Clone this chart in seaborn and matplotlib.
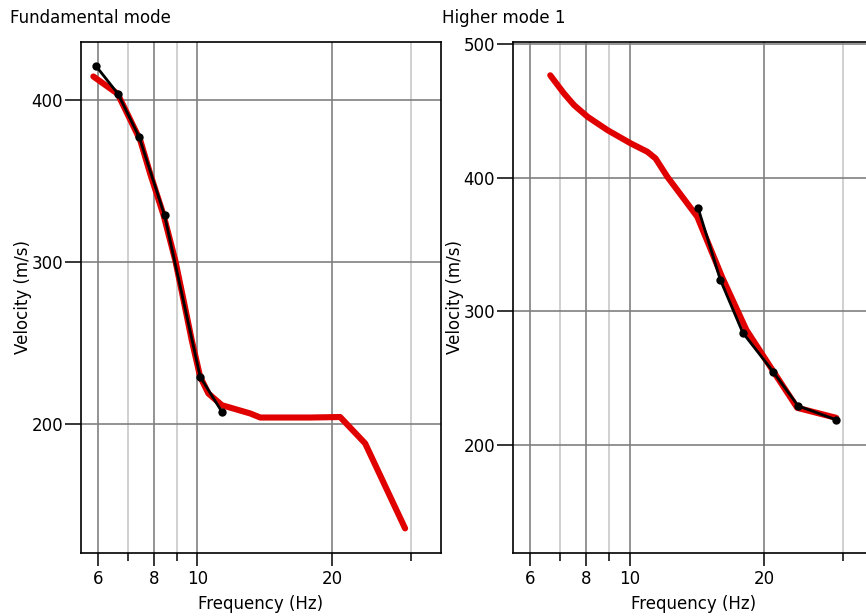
import pandas as pd
import numpy as np
import matplotlib
matplotlib.use('Agg')
import matplotlib.pyplot as plt
import matplotlib.ticker as mticker
import seaborn as sns

# fundamental mode: observed (black) and modelled (red)
fund_obs_f = [5.95, 6.65, 7.42, 8.45, 10.15, 11.35]
fund_obs_v = [420.6, 403.7, 376.9, 328.6, 228.8, 207.2]
fund_mod_f = [5.86, 6.64, 7.46, 7.85, 8.41, 8.93, 9.32, 9.72, 10.15, 10.59,
              11.35, 13.13, 13.82, 17.87, 20.84, 23.7, 29.1]
fund_mod_v = [414.4, 403.7, 374.9, 354.3, 328.6, 300.8, 276.1, 251.4, 228.8, 218.5,
              211.3, 206.2, 203.7, 203.7, 204.0, 187.7, 135.2]

# higher mode 1
high_obs_f = [14.23, 15.95, 17.89, 20.91, 23.77, 28.93]
high_obs_v = [377.0, 323.4, 284.0, 254.8, 229.2, 218.7]
high_mod_f = [6.65, 7.14, 7.52, 8.06, 8.93, 10.06, 10.96, 11.43, 12.14, 14.16,
              16.12, 18.23, 20.84, 23.68, 28.93]
high_mod_v = [476.7, 463.0, 454.3, 445.6, 435.6, 425.7, 419.4, 414.4, 400.7, 370.8,
              324.9, 286.0, 256.0, 227.7, 220.2]

x_major = [6, 8, 10, 20]
x_minor = [7, 9, 30]

sns.set_style("white")
plt.rcParams['font.family'] = ['DejaVu Sans']
plt.rcParams['text.color'] = 'black'
plt.rcParams['axes.labelcolor'] = 'black'
plt.rcParams['xtick.color'] = 'black'
plt.rcParams['ytick.color'] = 'black'

fig = plt.figure(figsize=(8.66, 6.16), dpi=100)
ax1 = fig.add_axes([81/866, 1-553/616, 360/866, 511.5/616])
ax2 = fig.add_axes([513.3/866, 1-553/616, 360/866, 511.5/616])

panels = [
    (ax1, fund_mod_f, fund_mod_v, fund_obs_f, fund_obs_v, (120, 436), [200, 300, 400]),
    (ax2, high_mod_f, high_mod_v, high_obs_f, high_obs_v, (119, 502), [200, 300, 400, 500]),
]

fs = 12
for ax, mf, mv, of, ov, ylim, yt in panels:
    mod = pd.DataFrame({'f': mf, 'v': mv})
    obs = pd.DataFrame({'f': of, 'v': ov})
    sns.lineplot(data=mod, x='f', y='v', ax=ax, color='#e00000', lw=4.4,
                 sort=False, estimator=None, zorder=3)
    sns.lineplot(data=obs, x='f', y='v', ax=ax, color='black', lw=2.0,
                 sort=False, estimator=None, marker='o', markersize=6,
                 markeredgewidth=0, zorder=4)
    ax.set_xscale('log')
    ax.set_xlim(5.5, 35)
    ax.set_ylim(*ylim)
    ax.xaxis.set_major_locator(mticker.FixedLocator(x_major))
    ax.xaxis.set_minor_locator(mticker.FixedLocator(x_minor))
    ax.xaxis.set_major_formatter(mticker.FixedFormatter([str(t) for t in x_major]))
    ax.xaxis.set_minor_formatter(mticker.NullFormatter())
    ax.set_yticks(yt)
    ax.grid(which='major', color='#808080', lw=1.2, zorder=0)
    ax.grid(which='minor', axis='x', color='#c8c8c8', lw=1.2, zorder=0)
    ax.tick_params(axis='y', which='major', length=11.5, width=1.1, pad=1.5,
                   labelsize=fs, left=True, color='black')
    ax.tick_params(axis='x', which='major', length=9, width=1.1, pad=3,
                   labelsize=fs, bottom=True, color='black')
    ax.tick_params(axis='x', which='minor', length=6, width=1.1, bottom=True,
                   color='black')
    for s in ax.spines.values():
        s.set_color('black')
        s.set_linewidth(1.2)
    ax.set_xlabel('Frequency (Hz)', fontsize=fs, labelpad=5)
    ax.set_ylabel('Velocity (m/s)', fontsize=fs)

ax1.yaxis.set_label_coords(-0.137, 0.5)
ax2.yaxis.set_label_coords(-0.137, 0.5)

fig.text(10/866, 1-18/616, 'Fundamental mode', fontsize=fs, va='center', ha='left')
fig.text(442/866, 1-18/616, 'Higher mode 1', fontsize=fs, va='center', ha='left')

fig.savefig('out.png', dpi=100)
